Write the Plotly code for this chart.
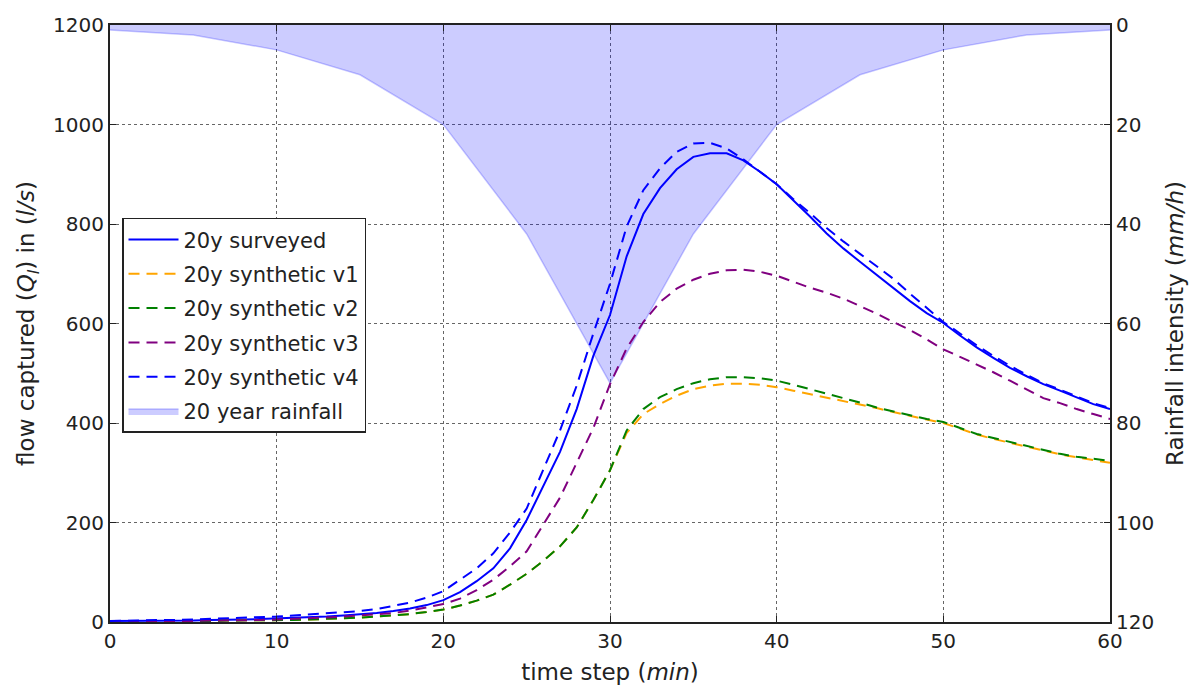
import plotly.graph_objects as go

# time axis (minutes)
t = list(range(0, 61))

# 20-year design storm hyetograph (mm/h), sampled every 5 minutes
rain_t = [0, 5, 10, 15, 20, 25, 30, 35, 40, 45, 50, 55, 60]
rain_i = [1, 2, 5, 10, 20, 42, 72, 42, 20, 10, 5, 2, 1]

# flow captured (l/s)
surveyed = [2, 2, 2, 2, 3, 3, 4, 4, 5, 6, 7, 8, 9, 11, 13, 15, 18, 22, 27, 34,
            44, 60, 82, 108, 148, 205, 275, 342, 428, 535, 617, 735, 820, 872, 910, 935,
            942, 942, 928, 905, 880, 848, 815, 781, 751, 724, 698, 671, 645, 621, 601,
            576, 552, 531, 511, 494, 478, 465, 451, 438, 428]
synth_v1 = [1, 1, 1, 1, 2, 2, 2, 3, 3, 3, 4, 4, 5, 6, 7, 9, 11, 13, 16, 20,
            25, 33, 43, 55, 75, 97, 123, 152, 190, 245, 305, 380, 418, 438, 455, 468,
            475, 479, 479, 477, 472, 465, 458, 451, 445, 438, 430, 422, 414, 407, 400,
            388, 377, 368, 360, 352, 344, 337, 331, 325, 320]
synth_v2 = [1, 1, 1, 1, 2, 2, 2, 3, 3, 3, 4, 4, 5, 6, 7, 9, 11, 13, 16, 20,
            25, 33, 43, 55, 75, 97, 123, 152, 190, 245, 305, 385, 428, 452, 468, 480,
            488, 492, 492, 490, 485, 477, 468, 460, 451, 441, 431, 423, 415, 408, 402,
            390, 378, 370, 362, 354, 346, 338, 332, 328, 324]
synth_v3 = [1, 1, 1, 2, 2, 2, 3, 3, 4, 4, 5, 6, 7, 9, 11, 13, 15, 18, 23, 29,
            36, 47, 64, 85, 112, 142, 195, 250, 320, 390, 478, 550, 603, 643, 670, 688,
            700, 707, 708, 704, 696, 684, 672, 662, 650, 635, 620, 603, 587, 568, 548,
            533, 518, 502, 485, 467, 450, 440, 428, 418, 408]
synth_v4 = [2, 3, 3, 4, 4, 5, 6, 7, 8, 9, 11, 13, 15, 17, 19, 22, 26, 32, 39, 49,
            62, 85, 108, 138, 180, 228, 305, 385, 475, 580, 680, 795, 868, 912, 945, 962,
            963, 952, 930, 905, 880, 850, 822, 792, 765, 740, 715, 690, 660, 632, 603,
            580, 556, 535, 515, 497, 480, 467, 453, 440, 430]

series = [
    ("20y surveyed", surveyed, "#0000ff", "solid"),
    ("20y synthetic v1", synth_v1, "#ffa500", "11px,7px"),
    ("20y synthetic v2", synth_v2, "#008000", "11px,7px"),
    ("20y synthetic v3", synth_v3, "#800080", "11px,7px"),
    ("20y synthetic v4", synth_v4, "#0000ff", "11px,7px"),
]

fig = go.Figure()

# rainfall hangs from the top of the reversed right-hand axis
fig.add_trace(go.Scatter(
    x=rain_t, y=rain_i, name="20 year rainfall", mode="lines",
    fill="tozeroy", fillcolor="rgba(0,0,255,0.2)",
    line=dict(color="rgba(0,0,255,0.22)", width=1.5),
    yaxis="y", legendrank=6, legendgroup="rain",
))

for i, (name, vals, color, dash) in enumerate(series):
    fig.add_trace(go.Scatter(
        x=t, y=vals, name=name, mode="lines",
        line=dict(color=color, width=2, dash=dash),
        yaxis="y2", legendrank=i + 1, legendgroup=f"s{i}",
    ))

font = "DejaVu Sans, Arial, sans-serif"

fig.update_layout(
    width=1198, height=691,
    margin=dict(l=110, r=88, t=25, b=69, autoexpand=False),
    paper_bgcolor="white", plot_bgcolor="white",
    font=dict(family=font, size=20, color="#222222"),
    showlegend=True,
    legend=dict(
        x=0.012, y=0.677, xanchor="left", yanchor="top",
        bgcolor="white", bordercolor="#222222", borderwidth=1.5,
        font=dict(size=21, color="#222222"),
        tracegroupgap=4, itemwidth=50,
    ),
    xaxis=dict(
        range=[0, 60], dtick=10, tick0=0, automargin=False,
        showgrid=True, gridcolor="#666666", griddash="dot", gridwidth=1,
        showline=True, linecolor="#222222", linewidth=2, mirror="ticks",
        ticks="inside", ticklen=6, tickcolor="#222222",
        zeroline=False, tickfont=dict(size=20),
        title=dict(text="time step (<i>min</i>)", font=dict(size=23), standoff=12),
    ),
    yaxis=dict(
        range=[120, 0], dtick=20, tick0=0, side="right", automargin=False,
        showgrid=False, zeroline=False,
        showline=True, linecolor="#222222", linewidth=2,
        ticks="inside", ticklen=6, tickcolor="#222222", tickfont=dict(size=20),
        title=dict(text="Rainfall intensity (<i>mm/h</i>)", font=dict(size=23), standoff=14),
    ),
    yaxis2=dict(
        range=[0, 1200], dtick=200, tick0=0, side="left", overlaying="y", automargin=False,
        showgrid=True, gridcolor="#666666", griddash="dot", gridwidth=1,
        zeroline=False,
        showline=True, linecolor="#222222", linewidth=2,
        ticks="inside", ticklen=6, tickcolor="#222222", tickfont=dict(size=20),
        title=dict(text="flow captured (<i>Q<sub>l</sub></i>) in (<i>l/s</i>)",
                   font=dict(size=23), standoff=12),
    ),
)

fig.write_html("out.html")
